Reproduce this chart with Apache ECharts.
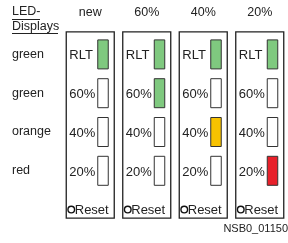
<!DOCTYPE html>
<html>
<head>
<meta charset="utf-8">
<script src="https://cdn.jsdelivr.net/npm/echarts@6/dist/echarts.min.js"></script>
<style>
html,body{margin:0;padding:0;background:#fff;}
#main{width:288px;height:243px;}
</style>
</head>
<body>
<div id="main"></div>
<script>
// Anzeigezustaende
var panels = ['new', '60%', '40%', '20%'];
var rows = ['green', 'green', 'orange', 'red', ''];
var cellLabels = ['RLT', '60%', '40%', '20%'];
var rowColors = ['#7fc97f', '#7fc97f', '#f7c200', '#e8202a'];
// 1 = LED an, 0 = aus (je Spalte von oben nach unten)
var ledNew = [1, 0, 0, 0];
var led60 = [1, 1, 0, 0];
var led40 = [1, 0, 1, 0];
var led20 = [1, 0, 0, 1];
var ledStates = [ledNew, led60, led40, led20];

var FONT = '"Liberation Sans", Arial, sans-serif';

var ledData = [];
ledStates.forEach(function (col, i) {
	col.forEach(function (on, j) {
		ledData.push([i, j, on]);
	});
});
var panelData = panels.map(function (p, i) { return [i, 4]; });

var option = {
	animation: false,
	grid: { left: 62, top: 35, width: 238.4, height: 194 },
	xAxis: {
		type: 'category',
		data: panels,
		position: 'top',
		axisLine: { show: false },
		axisTick: { show: false },
		axisLabel: { margin: 16, fontSize: 12.5, color: '#222', fontFamily: FONT }
	},
	yAxis: {
		type: 'category',
		data: rows,
		inverse: true,
		axisLine: { show: false },
		axisTick: { show: false },
		axisLabel: { margin: 50, align: 'left', fontSize: 12.5, color: '#222', fontFamily: FONT, padding: [6, 0, 0, 0] }
	},
	graphic: [
		{ type: 'text', left: 12, top: 5, style: { text: 'LED-', fontSize: 12.5, fill: '#222', fontFamily: FONT } },
		{ type: 'text', left: 12, top: 20, style: { text: 'Displays', fontSize: 12.5, fill: '#222', fontFamily: FONT } },
		{ type: 'line', shape: { x1: 12, y1: 19.5, x2: 40, y2: 19.5 }, style: { stroke: '#222', lineWidth: 1 } },
		{ type: 'line', shape: { x1: 12, y1: 33.5, x2: 58, y2: 33.5 }, style: { stroke: '#222', lineWidth: 1 } },
		{ type: 'text', right: 0, top: 223, style: { text: 'NSB0_01150', fontSize: 11, fill: '#222', fontFamily: FONT } }
	],
	series: [{
		// Rahmen je Anzeige
		type: 'custom',
		data: panelData,
		renderItem: function (params, api) {
			var c = api.coord([api.value(0), 0]);
			var b = api.coord([api.value(0), 4]);
			return {
				type: 'group',
				children: [{
					type: 'rect',
					shape: { x: c[0] - 24, y: c[1] - 22.5, width: 48, height: b[1] + 8.5 - (c[1] - 22.5) },
					style: { fill: 'none', stroke: '#222', lineWidth: 1.3 }
				}, {
					type: 'circle',
					shape: { cx: b[0] - 19, cy: b[1], r: 3.3 },
					style: { fill: 'none', stroke: '#111', lineWidth: 1.4 }
				}, {
					type: 'text',
					style: { x: b[0] - 15.5, y: b[1] + 0.5, text: 'Reset', fontSize: 13, fill: '#222', fontFamily: FONT, verticalAlign: 'middle' }
				}]
			};
		}
	}, {
		// LEDs
		type: 'custom',
		data: ledData,
		renderItem: function (params, api) {
			var i = api.value(0), j = api.value(1), on = api.value(2);
			var c = api.coord([i, j]);
			return {
				type: 'group',
				children: [{
					type: 'text',
					style: { x: c[0] - 21, y: c[1] + 1.5, text: cellLabels[j], fontSize: 13, fill: '#222', fontFamily: FONT, verticalAlign: 'middle' }
				}, {
					type: 'rect',
					shape: { x: c[0] + 7.5, y: c[1] - 14.5, width: 10.5, height: 29 },
					style: { fill: on ? rowColors[j] : '#fff', stroke: '#333', lineWidth: 1 }
				}]
			};
		}
	}]
};

var chart = echarts.init(document.getElementById('main'));
chart.setOption(option);
</script>
</body>
</html>
